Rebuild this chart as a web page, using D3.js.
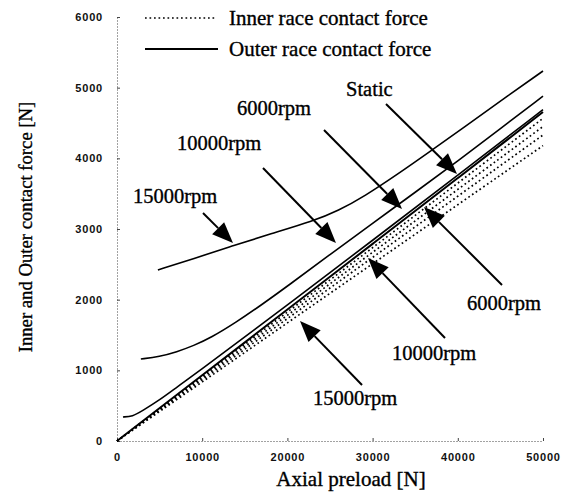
<!DOCTYPE html>
<html>
<head>
	<meta charset="utf-8">
	<script src="https://d3js.org/d3.v7.min.js"></script>
	<style type="text/css">
		body { margin: 0; background: #fff; }
		svg text.serif {
			font-family: 'Liberation Serif', 'Times New Roman', serif;
			fill: #000;
			stroke: #000;
			stroke-width: 0.35px;
		}
		svg .tick text {
			font-family: 'Liberation Sans', Arial, sans-serif;
			font-size: 11px;
			font-weight: bold;
			letter-spacing: 0.8px;
			fill: #111;
		}
	</style>
</head>
<body>
	<script type="text/javascript">
		var w = 569;
		var h = 493;

		// axis ticks
		var xTicks = [0, 10000, 20000, 30000, 40000, 50000];
		var yTicks = [0, 1000, 2000, 3000, 4000, 5000, 6000];

		// outer race contact force (solid)
		var staticPreload = [0, 10000, 20000, 30000, 40000, 50000];
		var staticOuter = [0, 930, 1860, 2790, 3720, 4655];

		var outer6000Preload = [700, 1800, 3000, 5000, 7000, 10000, 14000, 20000, 30000, 40000, 50000];
		var outer6000 = [340, 345, 430, 580, 760, 1020, 1385, 1925, 2840, 3760, 4690];

		var outer10000Preload = [2800, 5000, 7000, 9000, 11000, 14000, 17000, 20000, 25000, 30000, 35000, 40000, 45000, 50000];
		var outer10000 = [1160, 1195, 1260, 1350, 1460, 1680, 1930, 2190, 2640, 3080, 3520, 3960, 4420, 4880];

		var outer15000Preload = [4800, 9000, 13500, 18000, 23000, 26000, 29000, 33000, 37000, 41000, 45000, 50000];
		var outer15000 = [2420, 2580, 2760, 2930, 3110, 3260, 3460, 3780, 4120, 4460, 4810, 5236];

		// inner race contact force (dotted)
		var innerPreload = [0, 10000, 20000, 30000, 40000, 50000];
		var innerStatic = [0, 912, 1825, 2735, 3650, 4565];
		var inner6000 = [0, 890, 1780, 2670, 3560, 4450];
		var inner10000 = [0, 866, 1732, 2598, 3464, 4330];
		var inner15000 = [0, 836, 1672, 2508, 3344, 4180];

		// annotations: label, text position, arrow start, arrow tip (data units)
		var noteLabels = ['Static', '6000rpm', '10000rpm', '15000rpm', '6000rpm', '10000rpm', '15000rpm'];
		var noteTextAt = [[26878, 4882], [14085, 4613], [7042, 4118], [1878, 3368], [41080, 1854], [32277, 1146], [23005, 509]];
		var arrowFrom = [[31573, 4769], [24296, 4401], [17136, 3863], [10094, 3226], [45188, 2208], [38498, 1458], [28756, 792]];
		var arrowTo = [[39906, 3778], [33451, 3283], [25704, 2802], [13615, 2802], [36033, 3311], [29460, 2590], [21479, 1698]];

		var svg = d3.select('body')
			.append('svg')
			.attr('width', w)
			.attr('height', h);

		var x = d3.scaleLinear().domain([0, 50000]).range([117, 543]);
		var y = d3.scaleLinear().domain([0, 6000]).range([441, 17]);

		// axes
		svg.append('g')
			.attr('transform', 'translate(0,' + y(0) + ')')
			.call(d3.axisBottom(x).tickValues(xTicks).tickSizeInner(-3).tickSizeOuter(0).tickPadding(12).tickFormat(d3.format('d')));
		svg.append('g')
			.attr('transform', 'translate(' + x(0) + ',0)')
			.call(d3.axisLeft(y).tickValues(yTicks).tickSizeInner(-3).tickSizeOuter(0).tickPadding(14).tickFormat(d3.format('d')));

		svg.selectAll('.domain')
			.attr('stroke', '#444')
			.attr('stroke-width', 1)
			.attr('stroke-dasharray', '1,2');
		svg.selectAll('.tick line')
			.attr('stroke', '#444');

		function series(px, py) {
			return px.map(function (d, i) { return [d, py[i]]; });
		}

		var line = d3.line()
			.x(function (d) { return x(d[0]); })
			.y(function (d) { return y(d[1]); })
			.curve(d3.curveBasis);

		var inner = [
			series(innerPreload, innerStatic),
			series(innerPreload, inner6000),
			series(innerPreload, inner10000),
			series(innerPreload, inner15000)
		];
		var outer = [
			series(staticPreload, staticOuter),
			series(outer6000Preload, outer6000),
			series(outer10000Preload, outer10000),
			series(outer15000Preload, outer15000)
		];

		svg.append('g').selectAll('path')
			.data(inner)
			.enter()
			.append('path')
			.attr('d', line)
			.attr('fill', 'none')
			.attr('stroke', '#000')
			.attr('stroke-width', 1.7)
			.attr('stroke-dasharray', '1.7,2.8');

		svg.append('g').selectAll('path')
			.data(outer)
			.enter()
			.append('path')
			.attr('d', line)
			.attr('fill', 'none')
			.attr('stroke', '#000')
			.attr('stroke-width', function (d, i) { return i == 0 ? 2 : 1.6; });

		// arrows
		var arrows = svg.append('g');
		arrowFrom.forEach(function (a, i) {
			var x1 = x(a[0]), y1 = y(a[1]);
			var x2 = x(arrowTo[i][0]), y2 = y(arrowTo[i][1]);
			var ang = Math.atan2(y2 - y1, x2 - x1);
			var len = 21, half = 8.5;
			var bx = x2 - len * Math.cos(ang), by = y2 - len * Math.sin(ang);
			arrows.append('line')
				.attr('x1', x1).attr('y1', y1)
				.attr('x2', bx).attr('y2', by)
				.attr('stroke', '#000')
				.attr('stroke-width', 2);
			arrows.append('path')
				.attr('d', 'M' + x2 + ',' + y2 +
					'L' + (bx + half * Math.sin(ang)) + ',' + (by - half * Math.cos(ang)) +
					'L' + (bx - half * Math.sin(ang)) + ',' + (by + half * Math.cos(ang)) + 'Z')
				.attr('fill', '#000');
		});

		svg.append('g').selectAll('text')
			.data(noteLabels)
			.enter()
			.append('text')
			.attr('class', 'serif')
			.attr('x', function (d, i) { return x(noteTextAt[i][0]); })
			.attr('y', function (d, i) { return y(noteTextAt[i][1]); })
			.style('font-size', '20.5px')
			.text(function (d) { return d; });

		// legend
		var legend = svg.append('g');
		legend.append('line')
			.attr('x1', 145).attr('x2', 217).attr('y1', 18).attr('y2', 18)
			.attr('stroke', '#000').attr('stroke-width', 1.7).attr('stroke-dasharray', '1.7,2.8');
		legend.append('line')
			.attr('x1', 145).attr('x2', 218).attr('y1', 49).attr('y2', 49)
			.attr('stroke', '#000').attr('stroke-width', 2);
		legend.append('text').attr('class', 'serif')
			.attr('x', 229).attr('y', 25).style('font-size', '21px')
			.text('Inner race contact force');
		legend.append('text').attr('class', 'serif')
			.attr('x', 229).attr('y', 56).style('font-size', '21px')
			.text('Outer race contact force');

		// axis titles
		svg.append('text').attr('class', 'serif')
			.attr('x', 351).attr('y', 486)
			.attr('text-anchor', 'middle')
			.style('font-size', '21px')
			.text('Axial preload [N]');
		svg.append('text').attr('class', 'serif')
			.attr('transform', 'translate(32,227) rotate(-90)')
			.attr('text-anchor', 'middle')
			.style('font-size', '18.7px')
			.text('Inner and Outer contact force [N]');
	</script>
</body>
</html>
